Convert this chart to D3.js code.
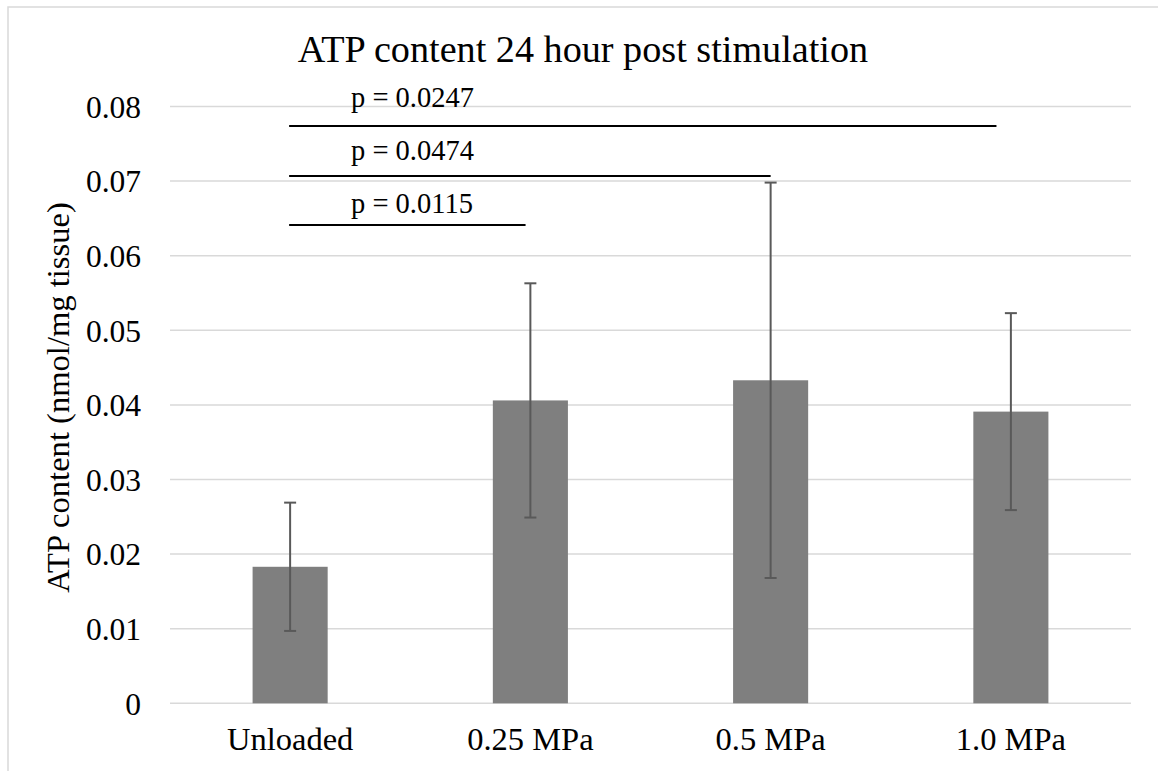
<!DOCTYPE html>
<html>
<head>
<meta charset="utf-8">
<script src="https://cdn.jsdelivr.net/npm/d3@7"></script>
<style>
  html, body { margin: 0; padding: 0; background: #fff; }
  svg { display: block; }
  text { font-family: "Liberation Serif", "Times New Roman", serif; fill: #000; }
</style>
</head>
<body>
<svg id="chart" width="1158" height="771"></svg>
<script>
// ---- data ----
const categories = ["Unloaded", "0.25 MPa", "0.5 MPa", "1.0 MPa"];
const means = [0.0183, 0.0406, 0.0433, 0.0391];
const errors = [0.0086, 0.0157, 0.0265, 0.0132];
const yTicks = [0, 0.01, 0.02, 0.03, 0.04, 0.05, 0.06, 0.07, 0.08];
const yTickLabels = ["0", "0.01", "0.02", "0.03", "0.04", "0.05", "0.06", "0.07", "0.08"];
const sigLabels = ["p = 0.0247", "p = 0.0474", "p = 0.0115"];
const sigLevels = [0.0774, 0.0707, 0.0641];
const sigLabelLevels = [0.0800, 0.0728, 0.0657];
const sigFrom = [0, 0, 0];
const sigTo = [2.94, 2.0, 0.98];
const title = "ATP content 24 hour post stimulation";
const yTitle = "ATP content (nmol/mg tissue)";

// ---- layout ----
const svg = d3.select("#chart");
const plot = { left: 170, right: 1131, top: 106.5, bottom: 703.3 };

const x = d3.scaleBand().domain(categories).range([plot.left, plot.right]).paddingInner(0.6875).paddingOuter(0.34375);
const y = d3.scaleLinear().domain([0, 0.08]).range([plot.bottom, plot.top]);
const xIdx = d3.scaleLinear().domain([0, categories.length - 1])
  .range([x(categories[0]) + x.bandwidth() / 2, x(categories[categories.length - 1]) + x.bandwidth() / 2]);

// chart border
svg.append("rect").attr("x", 8).attr("y", 7).attr("width", 1160).attr("height", 780)
  .attr("fill", "none").attr("stroke", "#d9d9d9").attr("stroke-width", 1.5);

// gridlines
svg.append("g").selectAll("line").data(yTicks).join("line")
  .attr("x1", plot.left).attr("x2", plot.right)
  .attr("y1", d => y(d)).attr("y2", d => y(d))
  .attr("stroke", "#d9d9d9").attr("stroke-width", 1.5);

// y axis labels
const yAxis = d3.axisLeft(y).tickValues(yTicks).tickFormat((d, i) => yTickLabels[i]).tickSize(0).tickPadding(0);
const gy = svg.append("g").attr("transform", `translate(141,0)`).call(yAxis);
gy.select(".domain").remove();
gy.selectAll("text").attr("font-size", 31.5).attr("font-family", "Liberation Serif").attr("fill", "#000").attr("dy", "0.34em");

// x axis labels
const xAxis = d3.axisBottom(x).tickSize(0).tickPadding(0);
const gx = svg.append("g").attr("transform", `translate(0,750)`).call(xAxis);
gx.select(".domain").remove();
gx.selectAll("text").attr("font-size", 32.5).attr("font-family", "Liberation Serif").attr("fill", "#000").attr("dy", 0);

// bars
svg.append("g").selectAll("rect").data(means).join("rect")
  .attr("x", (d, i) => x(categories[i]))
  .attr("width", x.bandwidth())
  .attr("y", d => y(d))
  .attr("height", d => y(0) - y(d))
  .attr("fill", "#7f7f7f");

// error bars
const eb = svg.append("g").attr("stroke", "#595959").attr("stroke-width", 2);
means.forEach((m, i) => {
  const cx = x(categories[i]) + x.bandwidth() / 2;
  const hi = y(m + errors[i]), lo = y(m - errors[i]);
  eb.append("line").attr("x1", cx).attr("x2", cx).attr("y1", hi).attr("y2", lo);
  eb.append("line").attr("x1", cx - 6).attr("x2", cx + 6).attr("y1", hi).attr("y2", hi);
  eb.append("line").attr("x1", cx - 6).attr("x2", cx + 6).attr("y1", lo).attr("y2", lo);
});

// significance lines + labels
const sg = svg.append("g");
sigLabels.forEach((lab, i) => {
  const yy = y(sigLevels[i]);
  sg.append("line").attr("x1", xIdx(sigFrom[i]) - 1).attr("x2", xIdx(sigTo[i]))
    .attr("y1", yy).attr("y2", yy).attr("stroke", "#000").attr("stroke-width", 2);
  sg.append("text").attr("x", 351).attr("y", y(sigLabelLevels[i])).attr("font-size", 28.5).text(lab);
});

// title
svg.append("text").attr("x", 583).attr("y", 62).attr("text-anchor", "middle")
  .attr("font-size", 38.2).text(title);

// y title
svg.append("text").attr("transform", `translate(69,397.5) rotate(-90)`).attr("text-anchor", "middle")
  .attr("font-size", 32.6).text(yTitle);
</script>
</body>
</html>
